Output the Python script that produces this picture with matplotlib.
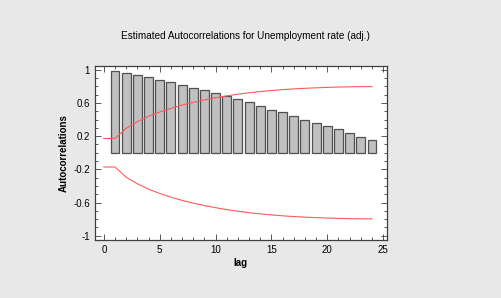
import matplotlib
matplotlib.use('Agg')
import matplotlib.pyplot as plt
from matplotlib.ticker import MultipleLocator

plt.rcParams['font.family'] = ['Liberation Sans', 'DejaVu Sans']

# data
lags = list(range(1, 25))
acf = [0.98, 0.955, 0.936, 0.907, 0.88, 0.852, 0.82, 0.782, 0.755, 0.72,
       0.687, 0.642, 0.606, 0.558, 0.518, 0.486, 0.437, 0.398, 0.358, 0.317,
       0.281, 0.237, 0.189, 0.153]
limit_lags = [0] + lags
upper = [0.172, 0.172, 0.294, 0.374, 0.438, 0.49, 0.535, 0.574, 0.607, 0.636,
         0.662, 0.685, 0.705, 0.722, 0.737, 0.749, 0.76, 0.769, 0.776, 0.782,
         0.787, 0.791, 0.794, 0.796, 0.797]
lower = [-v for v in upper]

BG = '#e8e8e8'
fig = plt.figure(figsize=(5.02, 2.98), dpi=100, facecolor=BG)
ax = fig.add_axes([0.189, 0.195, 0.581, 0.585])
ax.set_facecolor('white')

ax.bar(lags, acf, width=0.8, color='#c0c0c0', edgecolor='#505050', linewidth=0.9, zorder=2)
ax.plot(limit_lags, upper, color='#ff5a5a', linewidth=0.8, zorder=3)
ax.plot(limit_lags, lower, color='#ff5a5a', linewidth=0.8, zorder=3)

ax.set_xlim(-0.8, 25.3)
ax.set_ylim(-1.05, 1.05)
ax.xaxis.set_major_locator(MultipleLocator(5))
ax.xaxis.set_minor_locator(MultipleLocator(1))
ax.set_yticks([-1, -0.6, -0.2, 0.2, 0.6, 1])
ax.set_yticklabels(['-1', '-0.6', '-0.2', '0.2', '0.6', '1'])
ax.yaxis.set_minor_locator(MultipleLocator(0.1))
ax.tick_params(which='both', direction='in', top=True, right=True,
               labelsize=7, color='#404040', width=0.6)
ax.tick_params(which='major', length=4)
ax.tick_params(which='minor', length=2)
for s in ax.spines.values():
    s.set_color('#404040')
    s.set_linewidth(0.9)

ax.set_xlabel('lag', fontsize=7, fontweight='bold', labelpad=2)
ax.set_ylabel('Autocorrelations', fontsize=7, fontweight='bold', labelpad=3)
fig.text(0.488, 0.88, 'Estimated Autocorrelations for Unemployment rate (adj.)',
         ha='center', va='center', fontsize=7.2)

fig.savefig('out.png', dpi=100, facecolor=BG)
